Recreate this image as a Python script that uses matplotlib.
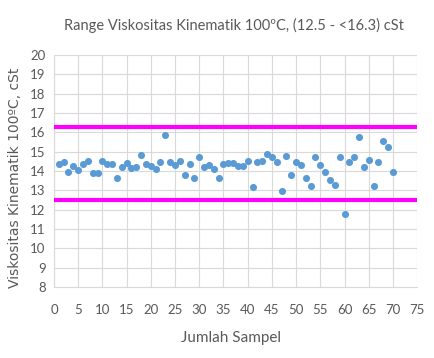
import matplotlib
matplotlib.use("Agg")
import matplotlib.pyplot as plt

sampel = list(range(1, 71))
viskositas = [
    14.35, 14.45, 13.93, 14.26, 14.05, 14.38, 14.53, 13.88, 13.88, 14.50,
    14.38, 14.36, 13.67, 14.22, 14.43, 14.14, 14.22, 14.84, 14.36, 14.28,
    14.09, 14.47, 15.86, 14.47, 14.33, 14.53, 13.79, 14.36, 13.67, 14.71,
    14.19, 14.31, 14.10, 13.67, 14.36, 14.43, 14.43, 14.26, 14.26, 14.53,
    13.19, 14.48, 14.53, 14.91, 14.71, 14.48, 12.98, 14.78, 13.79, 14.48,
    14.31, 13.67, 13.24, 14.71, 14.31, 13.93, 13.53, 13.30, 14.74, 11.76,
    14.48, 14.74, 15.77, 14.22, 14.57, 13.24, 14.48, 15.55, 15.26, 13.93,
]
batas_atas = 16.3
batas_bawah = 12.5

narrow = ['Lato', 'DejaVu Sans']
grey = '#595959'

fig = plt.figure(figsize=(4.35, 3.58), dpi=100)
ax = fig.add_axes([0.124, 0.198, 0.835, 0.648])

ax.plot([0, 75], [batas_atas, batas_atas], color='#FF00FF', lw=3, zorder=3,
        solid_capstyle='butt')
ax.plot([0, 75], [batas_bawah, batas_bawah], color='#FF00FF', lw=3, zorder=3,
        solid_capstyle='butt')
ax.scatter(sampel, viskositas, s=26, color='#5B9BD5', zorder=4, linewidths=0)

ax.set_xlim(0, 75)
ax.set_ylim(8, 20)
ax.set_xticks(range(0, 76, 5))
ax.set_yticks(range(8, 21))
ax.grid(True, color='#D9D9D9', lw=0.8)
ax.set_axisbelow(True)
for s in ['top', 'right']:
    ax.spines[s].set_visible(False)
for s in ['left', 'bottom']:
    ax.spines[s].set_color('#D9D9D9')
    ax.spines[s].set_linewidth(0.8)
ax.tick_params(length=0, colors=grey, labelsize=9.5, pad=6)
for lab in ax.get_xticklabels() + ax.get_yticklabels():
    lab.set_family(narrow)
ax.tick_params(axis='x', pad=12)

fig.text(0.538, 0.93, 'Range Viskositas Kinematik 100ºC, (12.5 - <16.3) cSt',
         ha='center', va='center', fontsize=10.5, color=grey, family=narrow)
fig.text(0.531, 0.056, 'Jumlah Sampel', ha='center', va='center',
         fontsize=11, color=grey, family=narrow)
fig.text(0.035, 0.503, 'Viskositas Kinematik 100ºC, cSt', rotation=90,
         ha='center', va='center', fontsize=10, color=grey)

fig.savefig('out.png', dpi=100)
